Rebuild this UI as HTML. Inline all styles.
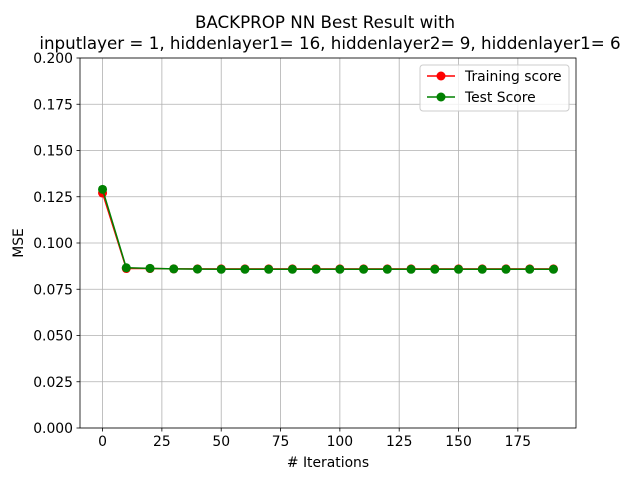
<!DOCTYPE html>
<html><head><meta charset="utf-8"><style>
body{margin:0;background:#fff;font-family:"DejaVu Sans","Liberation Sans",sans-serif}
svg text{font-family:"DejaVu Sans","Liberation Sans",sans-serif}
</style></head><body>
<svg id="chart" width="640" height="480" xmlns="http://www.w3.org/2000/svg">
<rect width="640" height="480" fill="#fff"/>
<text x="325" y="28" font-size="16.7" text-anchor="middle">BACKPROP NN Best Result with</text>
<text x="330" y="49" font-size="16.7" text-anchor="middle">inputlayer = 1, hiddenlayer1= 16, hiddenlayer2= 9, hiddenlayer1= 6</text>
<g id="grid"></g><g id="axes"></g><g id="series"></g>
<text x="328" y="467" font-size="13.9" text-anchor="middle"># Iterations</text>
<text x="23" y="243" font-size="13.9" text-anchor="middle" transform="rotate(-90 23 243)">MSE</text>
<g>
<rect x="420" y="65" width="149" height="46" rx="3" fill="#fff" fill-opacity="0.8" stroke="#ccc"/>
<line x1="427" y1="76" x2="455" y2="76" stroke="red" stroke-width="1.5"/><circle cx="441" cy="76" r="4.5" fill="red"/>
<text x="465" y="81" font-size="13.9">Training score</text>
<line x1="427" y1="97" x2="455" y2="97" stroke="green" stroke-width="1.5"/><circle cx="441" cy="97" r="4.5" fill="green"/>
<text x="465" y="102" font-size="13.9">Test Score</text>
</g>
</svg>
<script>
const iterations=[0,10,20,30,40,50,60,70,80,90,100,110,120,130,140,150,160,170,180,190];
const trainingScore=[0.127,0.0862,0.0862,0.0860,0.0860,0.0860,0.0860,0.0860,0.0860,0.0860,0.0860,0.0860,0.0860,0.0860,0.0860,0.0860,0.0860,0.0860,0.0860,0.0860];
const testScore=[0.129,0.0866,0.0863,0.0860,0.0859,0.0858,0.0858,0.0858,0.0858,0.0858,0.0858,0.0858,0.0858,0.0858,0.0858,0.0858,0.0858,0.0858,0.0858,0.0858];
const xTicks=[0,25,50,75,100,125,150,175];
const yTicks=[0,0.025,0.05,0.075,0.1,0.125,0.15,0.175,0.2];
const L=80,R=576,T=58,B=428,xmin=-9.5,xmax=199.5,ymin=0,ymax=0.2;
const sx=v=>L+(v-xmin)/(xmax-xmin)*(R-L), sy=v=>B-(v-ymin)/(ymax-ymin)*(B-T);
const NS="http://www.w3.org/2000/svg";
function mk(tag,attrs,parent){const e=document.createElementNS(NS,tag);for(const k in attrs)e.setAttribute(k,attrs[k]);parent.appendChild(e);return e;}
const grid=document.getElementById('grid'),axes=document.getElementById('axes'),ser=document.getElementById('series');
xTicks.forEach(t=>{const x=sx(t);
 const g=mk('line',{x1:x,x2:x,y1:T,y2:B,stroke:'#b0b0b0','stroke-width':0.8},grid);
 
 
 mk('line',{x1:x,x2:x,y1:B,y2:B+3.5,stroke:'#000','stroke-width':0.8},axes);
 const tx=mk('text',{x:x,y:B+18,'font-size':13.9,'text-anchor':'middle'},axes);tx.textContent=t;
 
 });
yTicks.forEach(t=>{const y=sy(t);
 const g=mk('line',{x1:L,x2:R,y1:y,y2:y,stroke:'#b0b0b0','stroke-width':0.8},grid);
 
 
 mk('line',{x1:L-3.5,x2:L,y1:y,y2:y,stroke:'#000','stroke-width':0.8},axes);
 const tx=mk('text',{x:L-7,y:y+5,'font-size':13.9,'text-anchor':'end'},axes);tx.textContent=t.toFixed(3);
 
 });
mk('rect',{x:L,y:T,width:R-L,height:B-T,fill:'none',stroke:'#000','stroke-width':0.8},axes);
function draw(vals,color,name){
 const p=mk('polyline',{points:iterations.map((x,i)=>sx(x)+','+sy(vals[i])).join(' '),fill:'none',stroke:color,'stroke-width':1.5},ser);
 
 
 iterations.forEach((x,i)=>{const c=mk('circle',{cx:sx(x),cy:sy(vals[i]),r:4.5,fill:color},ser);
  
  });
}
draw(trainingScore,'red','training-score');
draw(testScore,'green','test-score');
</script>
</body></html>
